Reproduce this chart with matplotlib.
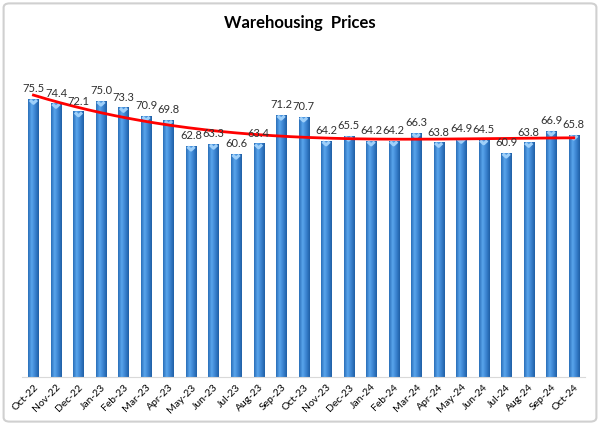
import numpy as np
import matplotlib
matplotlib.use("Agg")
import matplotlib.pyplot as plt
from matplotlib.colors import LinearSegmentedColormap
from matplotlib.patches import FancyBboxPatch

months = ["Oct-22", "Nov-22", "Dec-22", "Jan-23", "Feb-23", "Mar-23", "Apr-23",
          "May-23", "Jun-23", "Jul-23", "Aug-23", "Sep-23", "Oct-23", "Nov-23",
          "Dec-23", "Jan-24", "Feb-24", "Mar-24", "Apr-24", "May-24", "Jun-24",
          "Jul-24", "Aug-24", "Sep-24", "Oct-24"]
prices = [75.5, 74.4, 72.1, 75.0, 73.3, 70.9, 69.8, 62.8, 63.3, 60.6, 63.4, 71.2,
          70.7, 64.2, 65.5, 64.2, 64.2, 66.3, 63.8, 64.9, 64.5, 60.9, 63.8, 66.9, 65.8]

plt.rcParams["font.family"] = ["Lato", "DejaVu Sans"]

fig = plt.figure(figsize=(6, 4.25), dpi=100)
ax = fig.add_axes([0.037, 0.113, 0.938, 0.78])

x = np.arange(len(months))
bars = ax.bar(x, prices, width=0.45, color="#3f87d4", edgecolor="none", zorder=2)

# cylinder-ish shading on each bar
cmap = LinearSegmentedColormap.from_list("cyl", ["#2a6fb8", "#5aa5ec", "#3a82cf", "#1f5fa6"])
grad = np.linspace(0, 1, 64).reshape(1, -1)
for b in bars:
    x0, w, h = b.get_x(), b.get_width(), b.get_height()
    im = ax.imshow(grad, cmap=cmap, extent=[x0, x0 + w, 0, h], aspect="auto", zorder=2.1)
    im.set_clip_path(b)
    # light top cap
    ax.plot([x0 + w * 0.15, x0 + w / 2, x0 + w * 0.85], [h - 0.3, h - 1.2, h - 0.3],
            color="#9fd0fa", lw=2.2, zorder=2.2, solid_capstyle="butt")

for xi, v in zip(x, prices):
    ax.text(xi, v + 1.2, f"{v:.1f}", ha="center", va="bottom", fontsize=8,
            color="#303030", zorder=4)

# polynomial trendline
coef = np.polyfit(x, prices, 3)
xs = np.linspace(0, len(months) - 1, 200)
ax.plot(xs, np.polyval(coef, xs), color="#ff0000", lw=2, zorder=3)

ax.set_xlim(-0.5, len(months) - 0.5)
ax.set_ylim(0, 90)
ax.set_yticks([])
ax.set_xticks(x)
ax.set_xticklabels(months, rotation=45, ha="right", rotation_mode="anchor", fontsize=7.5)
ax.tick_params(axis="x", length=0, pad=4)
for s in ["top", "right", "left"]:
    ax.spines[s].set_visible(False)
ax.spines["bottom"].set_color("#d9d9d9")

fig.text(0.5, 0.945, "Warehousing  Prices", ha="center", va="center",
         fontsize=12, fontweight="bold", color="#000000")

frame = FancyBboxPatch((0.006, 0.008), 0.988, 0.984, boxstyle="round,pad=0,rounding_size=0.01",
                       transform=fig.transFigure, fill=False, edgecolor="#d0d0d0", lw=1.5)
fig.patches.append(frame)

fig.savefig("out.png", dpi=100)
